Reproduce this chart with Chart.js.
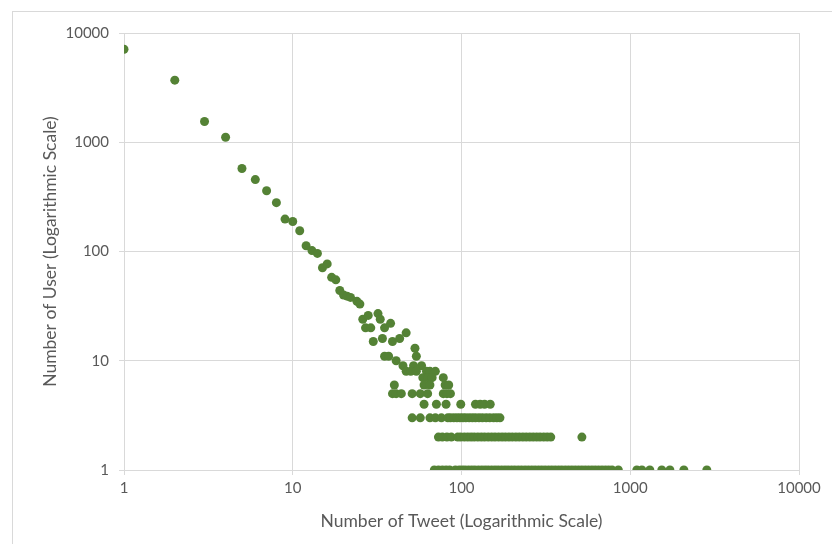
<!DOCTYPE html>
<html>
<head>
<meta charset="utf-8">
<script src="https://cdn.jsdelivr.net/npm/chart.js@4.4.1/dist/chart.umd.min.js"></script>
<style>
  html, body { margin: 0; padding: 0; background: #ffffff; }
  #wrap { width: 832px; height: 544px; position: relative; }
</style>
</head>
<body>
<div id="wrap"><canvas id="chart"></canvas></div>
<script>
// 軸の目盛り
const xTicks = [1, 10, 100, 1000, 10000];
const yTicks = [1, 10, 100, 1000, 10000];

// 上の方のまばらな点（ツイート数, ユーザー数）
const sparseTweets = [1, 2, 3, 4, 5, 6, 7, 8, 9, 10, 11, 12, 13, 14, 15, 16, 17, 18, 19, 20, 21, 22, 24, 25,
    26, 28, 27, 29, 32, 33, 35, 38, 30, 34, 39, 43, 47, 53, 35, 37, 54, 41,
    45, 52, 58, 47, 50, 54, 62, 65, 70, 59, 63, 67, 78, 40, 60, 65, 80, 84];
const sparseUsers = [7100, 3700, 1550, 1110, 575, 455, 360, 280, 198, 188, 155, 113, 102, 96, 71, 77, 58, 55, 44, 40, 39, 38, 35, 33,
    24, 26, 20, 20, 27, 24, 20, 22, 15, 16, 15, 16, 18, 13, 11, 11, 11, 10,
    9, 9, 9, 8, 8, 8, 8, 8, 8, 7, 7, 7, 7, 6, 6, 6, 6, 6];

// ユーザー数が 5, 4, 3, 2, 1 の行
const tweetsWith5 = [39, 41, 44, 51, 57, 63, 78, 82, 86];
const tweetsWith4 = [60, 71, 81, 99, 121, 129, 137, 148];
const tweetsWith3 = [51, 57, 65, 70, 76, 83, 86, 90, 94, 98, 102, 106, 111, 116, 121, 127, 133, 140, 147, 155, 162, 169];
const tweetsWith2 = [73, 77, 82, 87, 95, 99, 104, 109, 114, 119, 125, 131, 137, 144, 151, 158, 166, 174, 182, 191,
    200, 210, 220, 231, 242, 254, 266, 279, 292, 307, 322, 338, 517];
const tweetsWith1 = [69, 73, 77, 81, 85, 92, 97, 101, 105, 110, 115, 120, 126, 132, 138, 144, 151, 158, 165, 173, 181,
    189, 198, 207, 217, 227, 238, 249, 261, 273, 286, 299, 313, 328, 343, 359, 376, 393, 412, 431, 451, 472,
    494, 517, 541, 566, 593, 620, 649, 680, 712, 745, 780, 850, 1094, 1172, 1306, 1538, 1718, 2078, 2843];

// 点データを組み立てる
const points = [];
sparseTweets.forEach(function (t, i) { points.push({ x: t, y: sparseUsers[i] }); });
[[5, tweetsWith5], [4, tweetsWith4], [3, tweetsWith3], [2, tweetsWith2], [1, tweetsWith1]].forEach(function (row) {
    row[1].forEach(function (t) { points.push({ x: t, y: row[0] }); });
});

const textColor = '#595959';
const gridColor = '#d9d9d9';
const fontName = 'Lato';

// 外枠
const outerFrame = {
    id: 'outerFrame',
    beforeDraw: function (chart) {
        const ctx = chart.ctx;
        ctx.save();
        ctx.fillStyle = '#ffffff';
        ctx.fillRect(0, 0, chart.width, chart.height);
        ctx.strokeStyle = gridColor;
        ctx.lineWidth = 1;
        ctx.strokeRect(12.5, 11.5, 900, 600);
        ctx.restore();
    }
};

new Chart(document.getElementById('chart'), {
    type: 'scatter',
    data: {
        datasets: [{
            data: points,
            backgroundColor: '#548235',
            borderWidth: 0,
            pointRadius: 4.5,
            pointHoverRadius: 4.5
        }]
    },
    options: {
        responsive: true,
        maintainAspectRatio: false,
        animation: false,
        layout: { padding: { left: 0, top: 33, right: 33, bottom: 0 } },
        plugins: { legend: { display: false }, tooltip: { enabled: false } },
        scales: {
            x: {
                type: 'logarithmic',
                min: 1,
                max: 10000,
                afterBuildTicks: function (s) { s.ticks = xTicks.map(function (v) { return { value: v }; }); },
                afterFit: function (s) { s.height = 74; },
                grid: { color: gridColor, tickLength: 5 },
                border: { color: gridColor },
                ticks: {
                    color: textColor,
                    font: { family: fontName, size: 15 },
                    padding: 4,
                    maxRotation: 0,
                    callback: function (v) { return String(v); }
                },
                title: {
                    display: true,
                    text: 'Number of Tweet (Logarithmic Scale)',
                    color: textColor,
                    font: { family: fontName, size: 17.5 },
                    padding: { top: 0, bottom: 12.5 }
                }
            },
            y: {
                type: 'logarithmic',
                min: 1,
                max: 10000,
                afterBuildTicks: function (s) { s.ticks = yTicks.map(function (v) { return { value: v }; }); },
                afterFit: function (s) { s.width = 124; },
                grid: { color: gridColor, tickLength: 5 },
                border: { color: gridColor },
                ticks: {
                    color: textColor,
                    font: { family: fontName, size: 15 },
                    padding: 10,
                    callback: function (v) { return String(v); }
                },
                title: {
                    display: true,
                    text: 'Number of User (Logarithmic Scale)',
                    color: textColor,
                    font: { family: fontName, size: 17.5 },
                    padding: { top: 39.5, bottom: 0 }
                }
            }
        }
    },
    plugins: [outerFrame]
});
</script>
</body>
</html>
